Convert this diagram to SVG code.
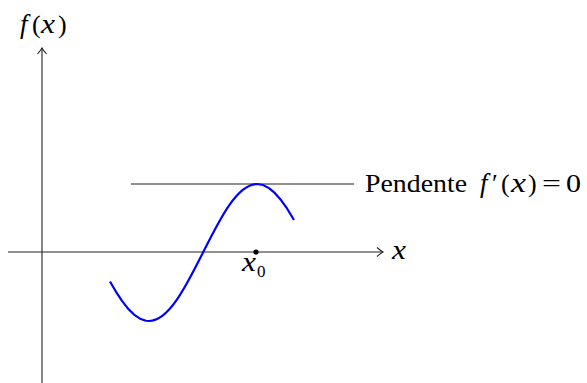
<svg xmlns="http://www.w3.org/2000/svg" width="587" height="383" viewBox="0 0 587 383">
<style>
.ax{stroke:#222;stroke-width:1.1;fill:none}
.t{font-family:"Liberation Serif","DejaVu Serif",serif;font-size:26px;fill:#000}
.m{font-style:italic;font-size:27px}
</style>
<defs>
<marker id="arr" viewBox="-8 -6 10 12" markerWidth="10" markerHeight="12" refX="0" refY="0" orient="auto" markerUnits="userSpaceOnUse">
<path d="M-6,-4.5 Q-2,-1 0,0 Q-2,1 -6,4.5" fill="none" stroke="#222" stroke-width="1.1"/>
</marker>
</defs>
<g id="connectors">
<line id="x-axis" class="ax" x1="8" y1="252" x2="383" y2="252" marker-end="url(#arr)"/>
<line id="y-axis" class="ax" x1="42" y1="383" x2="42" y2="48" marker-end="url(#arr)"/>
<line id="tangent" class="ax" x1="131" y1="184" x2="354" y2="184"/>
</g>
<g id="curve">
<path d="M110,281.45 L116,291.79 L122,300.94 L128,308.61 L134,314.58 L140,318.67 L146,320.74 L149,321 C168.54,321 185.39,287.59 203,252.5 C220.61,217.41 237.46,184 257,184 L263,185.04 L269,188.13 L275,193.18 L281,200.03 L287,208.47 L294,219.99" fill="none" stroke="#0000ff" stroke-width="2.2" stroke-linejoin="round"/>
</g>
<g id="point">
<circle cx="256" cy="252" r="2.6" fill="#000"/>
</g>
<g id="labels">
<text class="t" y="33"><tspan class="m" x="20">f</tspan><tspan x="32">(</tspan><tspan class="m" x="41" textLength="14" lengthAdjust="spacingAndGlyphs">x</tspan><tspan x="58">)</tspan></text>
<text class="t m" x="392" y="259" textLength="14" lengthAdjust="spacingAndGlyphs">x</text>
<text class="t" y="271"><tspan class="m" x="242" font-size="24" textLength="14" lengthAdjust="spacingAndGlyphs">x</tspan><tspan font-size="17" x="257" y="277">0</tspan></text>
<text class="t" y="192"><tspan x="365" textLength="102" lengthAdjust="spacingAndGlyphs">Pendente</tspan><tspan class="m" x="480">f</tspan><tspan x="492">′</tspan><tspan x="501">(</tspan><tspan class="m" x="511" textLength="15" lengthAdjust="spacingAndGlyphs">x</tspan><tspan x="528">)</tspan><tspan x="542" textLength="19" lengthAdjust="spacingAndGlyphs">=</tspan><tspan x="566" textLength="15" lengthAdjust="spacingAndGlyphs">0</tspan></text>
</g>
</svg>
